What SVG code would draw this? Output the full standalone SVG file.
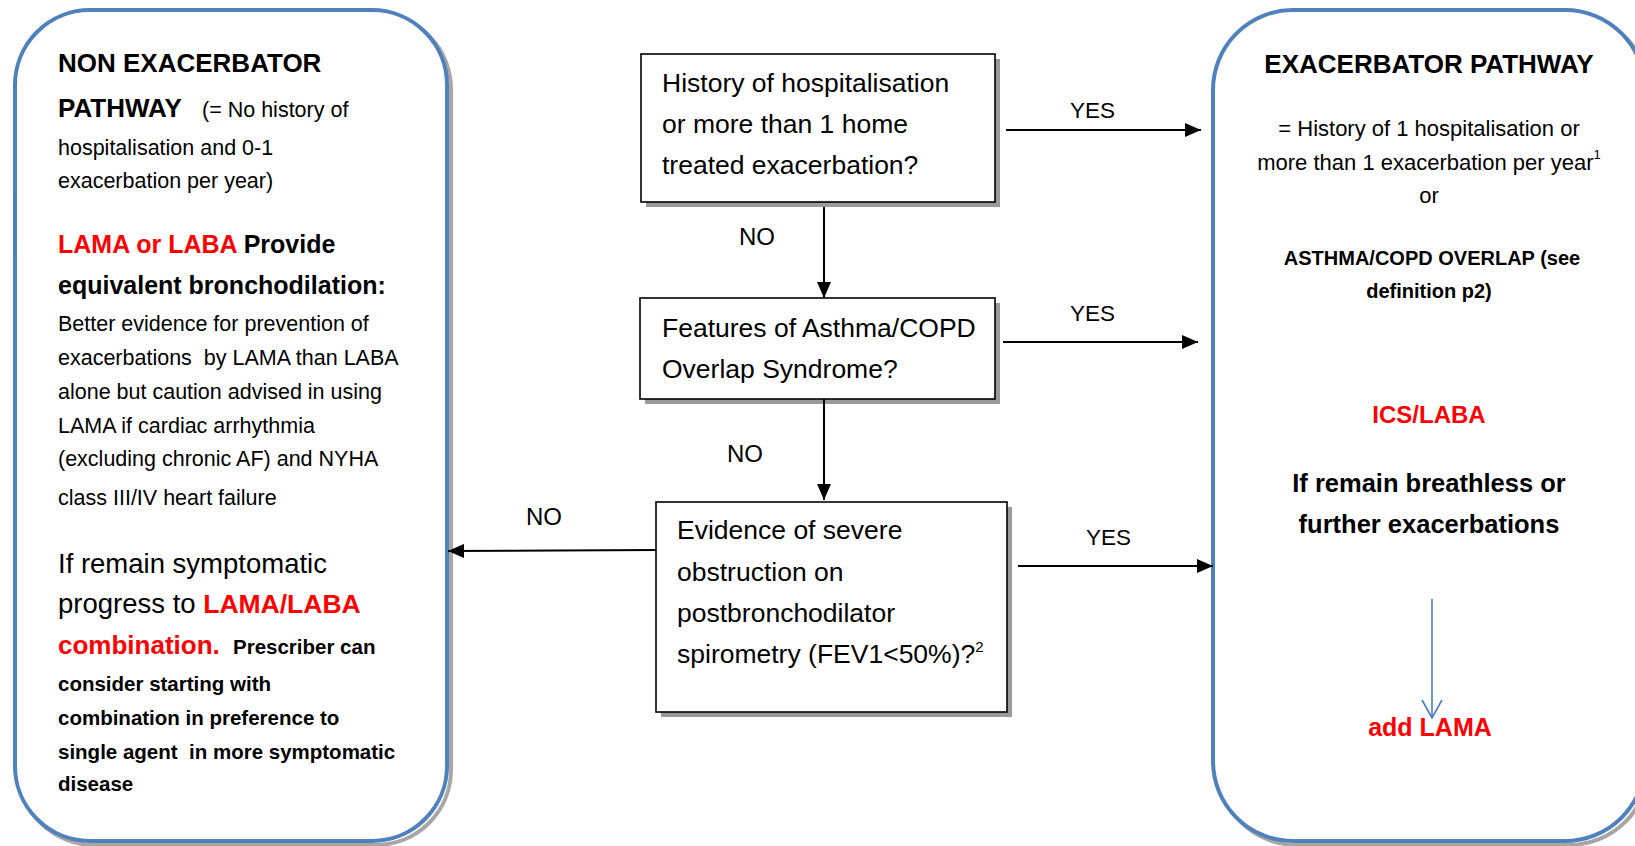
<svg xmlns="http://www.w3.org/2000/svg" width="1635" height="846" viewBox="0 0 1635 846">
<style>
text { font-family: "Liberation Sans", Arial, sans-serif; fill: #000; white-space: pre; }
.b { font-weight: bold; }
.red { fill: #FF0000; }
.body { font-size: 21.5px; }
.hdr { font-size: 26px; font-weight: bold; }
.q { font-size: 26.5px; }
.lbl { font-size: 22.5px; }
.no { font-size: 24px; }
.path { fill: #fff; stroke: #4F81BD; stroke-width: 4; }
.pshadow { fill: none; stroke: #A6A6A6; stroke-width: 4; }
.qbox { fill: #fff; stroke: #000; stroke-width: 1.6; }
.qshadow { fill: #9A9A9A; }
.conn { stroke: #000; stroke-width: 2; fill: none; }
.blue { stroke: #4A7EBB; stroke-width: 1.6; fill: none; }
</style>
<defs>
<marker id="arr" viewBox="0 0 16 14" markerWidth="16" markerHeight="14" refX="16" refY="7" orient="auto" markerUnits="userSpaceOnUse">
<path d="M0,0 L16,7 L0,14 Z" fill="#000"/>
</marker>
<marker id="chev" viewBox="0 0 20 22" markerWidth="20" markerHeight="22" refX="19" refY="11" orient="auto" markerUnits="userSpaceOnUse">
<path d="M1,1 L19,11 L1,21" fill="none" stroke="#4A7EBB" stroke-width="1.6"/>
</marker>
</defs>
<rect width="1635" height="846" fill="#fff"/>

<g id="non-exacerbator">
<rect class="pshadow" x="19" y="14" width="432" height="831" rx="75" ry="75"/>
<rect class="path" x="15" y="10" width="432" height="831" rx="75" ry="75"/>
<text class="hdr" x="58" y="72">NON EXACERBATOR</text>
<text x="58" y="117"><tspan class="hdr" font-size="27">PATHWAY</tspan><tspan class="body" x="202">(= No history of</tspan></text>
<text class="body" x="58" y="155">hospitalisation and 0-1</text>
<text class="body" x="58" y="188">exacerbation per year)</text>
<text class="b" x="58" y="253" font-size="25"><tspan class="red">LAMA or LABA</tspan> Provide</text>
<text class="b" x="58" y="294" font-size="25">equivalent bronchodilation:</text>
<text class="body" x="58" y="331">Better evidence for prevention of</text>
<text class="body" x="58" y="365">exacerbations  by LAMA than LABA</text>
<text class="body" x="58" y="399">alone but caution advised in using</text>
<text class="body" x="58" y="433">LAMA if cardiac arrhythmia</text>
<text class="body" x="58" y="466">(excluding chronic AF) and NYHA</text>
<text class="body" x="58" y="505">class III/IV heart failure</text>
<text x="58" y="573" font-size="27.5">If remain symptomatic</text>
<text x="58" y="613" font-size="27.5">progress to <tspan class="b red" font-size="26.5">LAMA/LABA</tspan></text>
<text x="58" y="654"><tspan class="b red" font-size="26">combination.</tspan><tspan class="b" x="233" font-size="20.5">Prescriber can</tspan></text>
<text class="b" x="58" y="691" font-size="20.5">consider starting with</text>
<text class="b" x="58" y="725" font-size="20.5">combination in preference to</text>
<text class="b" x="58" y="759" font-size="20.5">single agent  in more symptomatic</text>
<text class="b" x="58" y="791" font-size="20.5">disease</text>
</g>

<g id="q1">
<rect class="qshadow" x="646" y="59" width="354" height="148"/>
<rect class="qbox" x="641" y="54" width="354" height="148"/>
<text class="q" x="662" y="92">History of hospitalisation</text>
<text class="q" x="662" y="133">or more than 1 home</text>
<text class="q" x="662" y="174">treated exacerbation?</text>
</g>

<g id="q2">
<rect class="qshadow" x="645" y="303" width="355" height="101"/>
<rect class="qbox" x="640" y="298" width="355" height="101"/>
<text class="q" x="662" y="337">Features of Asthma/COPD</text>
<text class="q" x="662" y="378">Overlap Syndrome?</text>
</g>

<g id="q3">
<rect class="qshadow" x="661" y="507" width="351" height="210"/>
<rect class="qbox" x="656" y="502" width="351" height="210"/>
<text class="q" x="677" y="539">Evidence of severe</text>
<text class="q" x="677" y="581">obstruction on</text>
<text class="q" x="677" y="622">postbronchodilator</text>
<text class="q" x="677" y="663">spirometry (FEV1&lt;50%)?<tspan font-size="15" dy="-11">2</tspan></text>
</g>

<g id="exacerbator">
<rect class="pshadow" x="1217" y="14" width="432" height="831" rx="80" ry="80"/>
<rect class="path" x="1213" y="10" width="432" height="831" rx="80" ry="80"/>
<g text-anchor="middle">
<text class="hdr" x="1429" y="73">EXACERBATOR PATHWAY</text>
<text x="1429" y="136" font-size="22">= History of 1 hospitalisation or</text>
<text x="1429" y="170" font-size="22">more than 1 exacerbation per year<tspan font-size="13" dy="-11">1</tspan></text>
<text x="1429" y="203" font-size="22">or</text>
<text class="b" x="1432" y="265" font-size="20">ASTHMA/COPD OVERLAP (see</text>
<text class="b" x="1429" y="298" font-size="20">definition p2)</text>
<text class="b red" x="1429" y="423" font-size="24">ICS/LABA</text>
<text class="b" x="1429" y="492" font-size="25.5">If remain breathless or</text>
<text class="b" x="1429" y="533" font-size="25.5">further exacerbations</text>
<text class="b red" x="1430" y="736" font-size="25">add LAMA</text>
</g>
</g>

<g id="connectors">
<line class="conn" x1="824" y1="207" x2="824" y2="298" marker-end="url(#arr)"/>
<line class="conn" x1="824" y1="399" x2="824" y2="500" marker-end="url(#arr)"/>
<line class="conn" x1="1006" y1="130" x2="1201" y2="130" marker-end="url(#arr)"/>
<line class="conn" x1="1003" y1="342" x2="1198" y2="342" marker-end="url(#arr)"/>
<line class="conn" x1="1018" y1="566" x2="1213" y2="566" marker-end="url(#arr)"/>
<line class="conn" x1="656" y1="550" x2="448" y2="551" marker-end="url(#arr)"/>
<line class="blue" x1="1432" y1="599" x2="1432" y2="718" marker-end="url(#chev)"/>
<text class="no" x="739" y="245">NO</text>
<text class="no" x="727" y="462">NO</text>
<text class="no" x="526" y="525">NO</text>
<text class="lbl" x="1070" y="118">YES</text>
<text class="lbl" x="1070" y="321">YES</text>
<text class="lbl" x="1086" y="545">YES</text>
</g>
</svg>
